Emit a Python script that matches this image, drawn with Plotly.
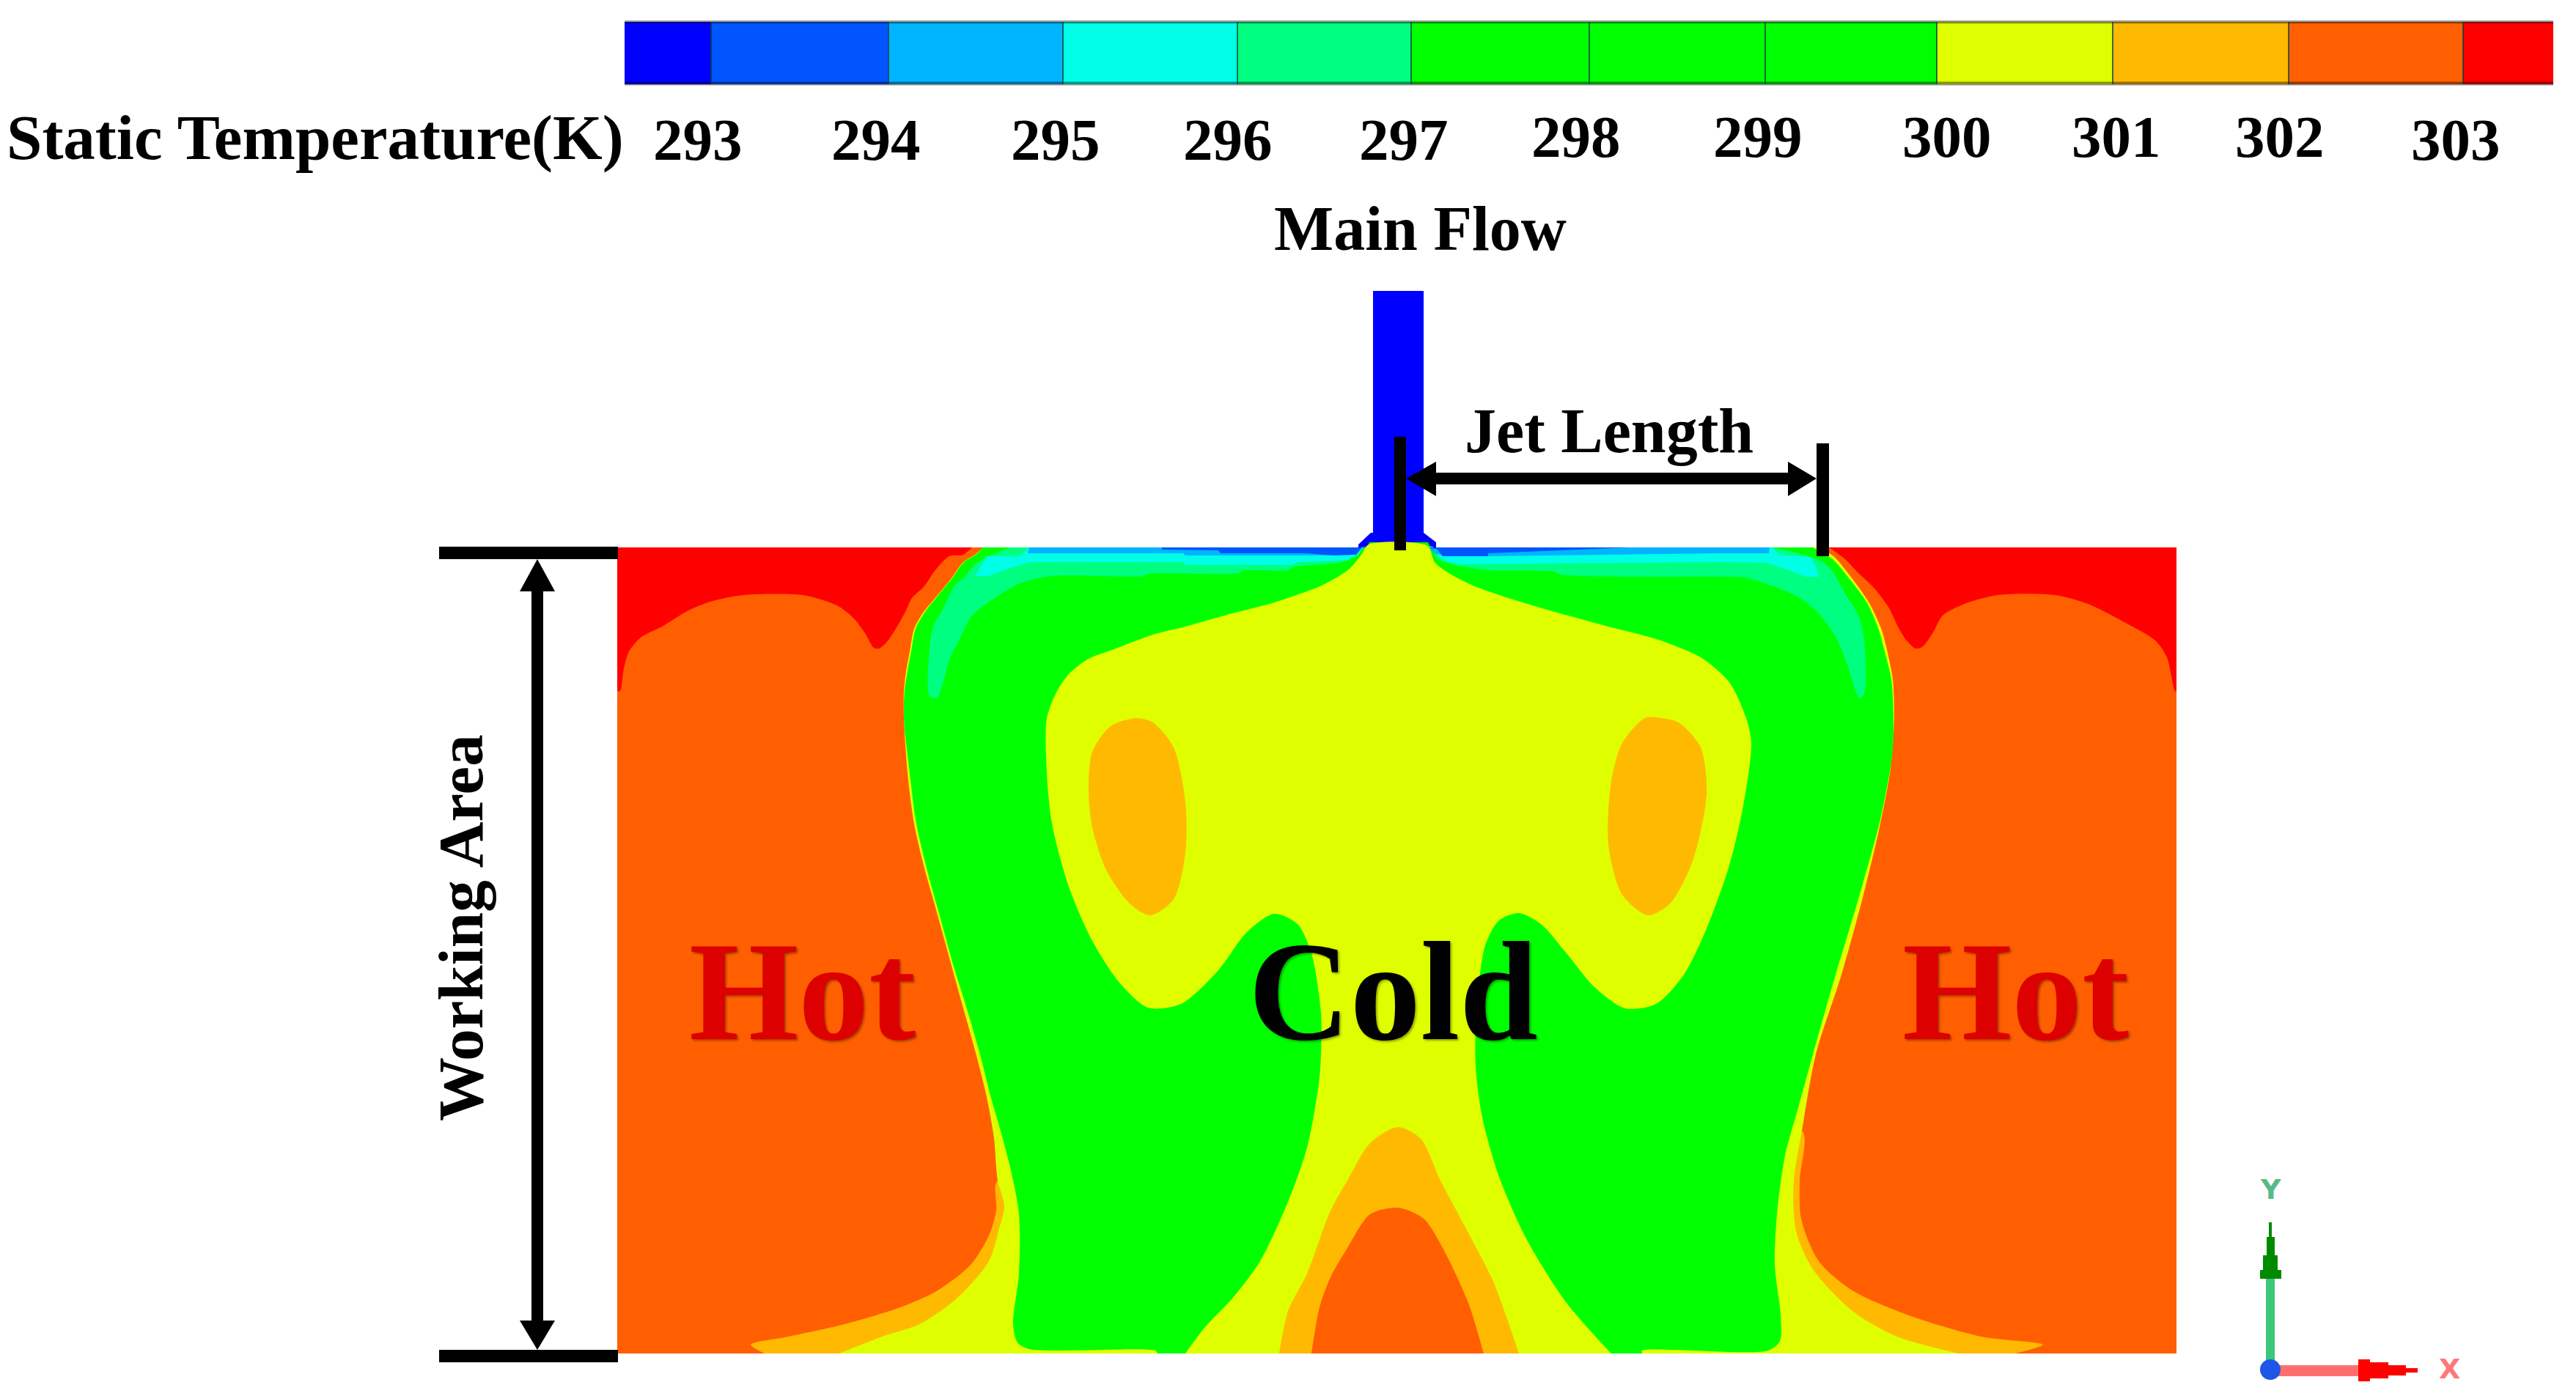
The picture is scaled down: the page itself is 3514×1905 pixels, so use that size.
import plotly.graph_objects as go

# ---- colour bar -----------------------------------------------------------
BAR_EDGES = [852, 970, 1212, 1450, 1688, 1925, 2168, 2408, 2642, 2882, 3122, 3360, 3483]
BAR_COLORS = ["#0000FF", "#0055FF", "#00B4FF", "#00FFE6", "#00FF80", "#00FF00", "#00FF00",
              "#00FF00", "#DFFF00", "#FFB900", "#FF5F00", "#FF0000"]
TICK_LABELS = ["293", "294", "295", "296", "297", "298", "299", "300", "301", "302", "303"]
TICK_X = [952, 1195, 1440, 1675, 1915, 2150, 2398, 2656, 2887, 3110, 3350]
TICK_Y = [191, 191, 191, 191, 191, 187, 187, 187, 187, 187, 191]

# ---- temperature contour bands (outlines) ---------------------------------
DOMAIN = [(842, 747), (2969, 747), (2969, 1847), (842, 1847)]
RED_L = [(842, 747), (1326, 747), (1314, 757), (1295, 759), (1276, 778), (1260, 801), (1244, 816), (1235, 835),
         (1222, 858), (1209, 877), (1199, 885), (1192, 884), (1180, 864), (1164, 843), (1145, 828), (1126, 820),
         (1094, 812), (1015, 812), (973, 820), (941, 832), (903, 855), (874, 870), (858, 889), (851, 912),
         (846, 943), (842, 943)]
RED_R = [(2495, 747), (2517, 763), (2533, 780), (2557, 803), (2577, 830), (2590, 857), (2600, 873), (2613, 885),
         (2622, 883), (2637, 863), (2650, 840), (2680, 824), (2726, 812), (2803, 812), (2848, 824), (2894, 847),
         (2940, 874), (2956, 897), (2967, 943), (2969, 943), (2969, 747)]
AMBER_L = [(1361, 1611), (1359, 1652), (1349, 1686), (1324, 1726), (1279, 1761), (1228, 1784), (1152, 1807),
           (1075, 1824), (1024, 1835), (1043, 1847), (1500, 1847), (1500, 1611)]
AMBER_R = [(2458, 1543), (2455, 1611), (2457, 1663), (2481, 1721), (2527, 1761), (2604, 1795), (2703, 1824),
           (2787, 1835), (2749, 1847), (2300, 1847), (2300, 1583)]
YELLOW_OUT = [(1341, 747), (1330, 757), (1314, 767), (1298, 789), (1279, 812), (1260, 835), (1247, 858), (1241, 889),
              (1236, 916), (1233, 943), (1233, 980), (1238, 1055), (1247, 1124), (1260, 1181), (1276, 1238),
              (1295, 1307), (1311, 1365), (1330, 1433), (1346, 1497), (1356, 1554), (1361, 1611), (1370, 1646),
              (1362, 1680), (1349, 1721), (1305, 1772), (1254, 1807), (1203, 1824), (1145, 1847), (2672, 1847),
              (2588, 1824), (2527, 1789), (2473, 1732), (2450, 1680), (2447, 1611), (2458, 1543), (2477, 1439),
              (2512, 1330), (2542, 1221), (2565, 1124), (2579, 1049), (2584, 980), (2582, 927), (2577, 900),
              (2567, 860), (2550, 823), (2527, 790), (2500, 758), (2478, 747)]
GREEN = [(1341, 747), (1331, 757), (1315, 767), (1299, 789), (1280, 812), (1262, 835), (1249, 858), (1243, 889),
         (1238, 916), (1234, 943), (1233, 980), (1241, 1055), (1250, 1124), (1266, 1192), (1282, 1250), (1301, 1319),
         (1317, 1370), (1337, 1439), (1353, 1502), (1368, 1554), (1381, 1606), (1390, 1657), (1390, 1738),
         (1382, 1807), (1388, 1832), (1404, 1841), (1576, 1843), (1579, 1847), (2240, 1847), (2240, 1843),
         (2412, 1843), (2428, 1830), (2429, 1795), (2421, 1726), (2424, 1657), (2435, 1577), (2454, 1508),
         (2473, 1439), (2504, 1330), (2535, 1227), (2565, 1118), (2581, 1032), (2583, 980), (2580, 927), (2573, 897),
         (2563, 860), (2547, 823), (2523, 790), (2500, 763), (2493, 759), (2473, 747)]
TEAL = [(1378, 747), (1349, 759), (1330, 770), (1317, 786), (1301, 801), (1286, 832), (1273, 855), (1268, 885),
        (1268, 950), (1278, 952), (1289, 923), (1295, 900), (1308, 874), (1324, 843), (1340, 828), (1368, 809),
        (1394, 795), (1435, 786), (1560, 786), (1566, 783), (1691, 782), (1694, 779), (1757, 778), (1764, 774),
        (1830, 767), (1852, 757), (1867, 740), (1950, 743), (1960, 762), (1980, 770), (2030, 778), (2121, 780),
        (2129, 784), (2350, 787), (2380, 788), (2413, 798), (2450, 813), (2477, 833), (2503, 867), (2520, 907),
        (2533, 947), (2537, 953), (2543, 947), (2543, 873), (2535, 840), (2517, 810), (2500, 780), (2487, 767),
        (2470, 760), (2433, 750), (2418, 747)]
CYAN = [(1404, 747), (1391, 759), (1346, 759), (1330, 786), (1349, 786), (1375, 776), (1407, 767), (1614, 767),
        (1617, 771), (1764, 771), (1770, 767), (1837, 765), (1853, 757), (1860, 745), (1953, 750), (1970, 765),
        (1990, 770), (2350, 767), (2410, 768), (2440, 778), (2463, 787), (2482, 787), (2477, 773), (2470, 760),
        (2427, 757), (2417, 747)]
SKY = [(1404, 747), (1402, 755), (1614, 755), (1617, 758), (1820, 758), (1850, 755), (1860, 745), (1950, 747),
       (1955, 755), (1975, 759), (2030, 759), (2350, 755), (2413, 755), (2414, 747)]
BLUE = [(1585, 747), (1585, 750), (1662, 751), (1665, 755), (1783, 755), (1820, 758), (1850, 757), (1860, 745),
        (1960, 749), (1968, 759), (2030, 759), (2030, 755), (2152, 750), (2225, 747)]
JET = [(1873, 397), (1942, 397), (1942, 727), (1959, 740), (1959, 748), (1947, 744), (1868, 744), (1853, 748),
       (1853, 743), (1870, 727), (1873, 727)]
JET_FRINGE = [(1858, 762), (1868, 740), (1948, 740), (1958, 762)]
YELLOW_IN = [(1617, 1847), (1643, 1812), (1681, 1772), (1719, 1721), (1757, 1640), (1783, 1566), (1799, 1479),
             (1802, 1439), (1802, 1382), (1789, 1301), (1770, 1261), (1738, 1247), (1700, 1273), (1662, 1324),
             (1611, 1370), (1566, 1375), (1528, 1342), (1490, 1284), (1458, 1210), (1435, 1124), (1428, 1055),
             (1428, 980), (1442, 943), (1458, 920), (1483, 900), (1522, 885), (1573, 866), (1617, 855), (1681, 837),
             (1732, 824), (1777, 809), (1805, 798), (1840, 777), (1857, 757), (1867, 743), (1947, 745), (1957, 767),
             (1973, 780), (2007, 798), (2045, 812), (2114, 833), (2198, 856), (2259, 872), (2320, 897), (2359, 931),
             (2382, 980), (2389, 1014), (2378, 1100), (2359, 1181), (2328, 1267), (2297, 1330), (2259, 1370),
             (2217, 1376), (2175, 1347), (2137, 1301), (2102, 1261), (2072, 1246), (2045, 1256), (2026, 1290),
             (2014, 1382), (2013, 1456), (2022, 1525), (2045, 1606), (2083, 1692), (2137, 1778), (2198, 1847)]
AMBER_C = [(1745, 1847), (1757, 1789), (1783, 1738), (1815, 1652), (1838, 1611), (1869, 1560), (1907, 1538),
           (1938, 1554), (1965, 1611), (1999, 1675), (2037, 1749), (2072, 1847)]
AMBER_ISLE_L = [(1550, 980), (1515, 991), (1490, 1026), (1485, 1078), (1490, 1129), (1509, 1187), (1541, 1233),
                (1569, 1249), (1601, 1227), (1617, 1164), (1617, 1095), (1601, 1020), (1573, 986)]
AMBER_ISLE_R = [(2244, 980), (2213, 1014), (2198, 1066), (2194, 1152), (2213, 1221), (2248, 1249), (2278, 1233),
                (2309, 1175), (2328, 1083), (2320, 1020), (2290, 986), (2267, 980)]
ORANGE_C = [(1789, 1847), (1800, 1784), (1815, 1743), (1838, 1703), (1869, 1657), (1907, 1648), (1942, 1663),
            (1968, 1703), (2003, 1778), (2024, 1847)]

# (outline, colour, smooth the outline?)
BANDS = [
    (DOMAIN, "#FF5F00", False), (RED_L, "#FF0000", True), (RED_R, "#FF0000", True),
    (AMBER_L, "#FFB900", True), (AMBER_R, "#FFB900", True), (YELLOW_OUT, "#DFFF00", True),
    (GREEN, "#00FF00", True), (TEAL, "#00FF80", True), (CYAN, "#00FFE6", False), (SKY, "#00B4FF", False),
    (BLUE, "#0055FF", False), (JET, "#0000FF", False), (JET_FRINGE, "#00FF00", False), (YELLOW_IN, "#DFFF00", True),
    (AMBER_C, "#FFB900", True), (AMBER_ISLE_L, "#FFB900", True), (AMBER_ISLE_R, "#FFB900", True),
    (ORANGE_C, "#FF5F00", True),
]

# ---- dimension marks ------------------------------------------------------
BLACK_POLYS = [
    [(1902, 596), (1918, 596), (1918, 751), (1902, 751)],                 # jet tick left
    [(2478, 605), (2495, 605), (2495, 759), (2478, 759)],                 # jet tick right
    [(1959, 645), (2439, 645), (2439, 661), (1959, 661)],                 # jet shaft
    [(1918, 653), (1959, 630), (1959, 677)],                              # jet head left
    [(2478, 653), (2439, 630), (2439, 677)],                              # jet head right
    [(599, 746), (843, 746), (843, 763), (599, 763)],                     # top bar
    [(599, 1842), (843, 1842), (843, 1859), (599, 1859)],                 # bottom bar
    [(725, 807), (741, 807), (741, 1802), (725, 1802)],                   # area shaft
    [(733, 763), (709, 807), (757, 807)],                                 # area head up
    [(733, 1842), (709, 1802), (757, 1802)],                              # area head down
]

# ---- axis triad -----------------------------------------------------------
TRIAD_ORIGIN = (3097, 1869)
Y_STEM = [(3091, 1869), (3103, 1869), (3103, 1745), (3091, 1745)]
Y_HEAD = [(3083, 1745), (3083, 1733), (3087, 1733), (3087, 1713), (3092, 1713), (3092, 1688), (3095, 1688),
          (3095, 1668), (3099, 1668), (3099, 1688), (3103, 1688), (3103, 1713), (3107, 1713), (3107, 1733),
          (3112, 1733), (3112, 1745)]
X_STEM = [(3097, 1863), (3217, 1863), (3217, 1878), (3097, 1878)]
X_HEAD = [(3217, 1855), (3233, 1855), (3233, 1859), (3258, 1859), (3258, 1863), (3282, 1863), (3282, 1867),
          (3298, 1867), (3298, 1873), (3282, 1873), (3282, 1877), (3258, 1877), (3258, 1881), (3233, 1881),
          (3233, 1885), (3217, 1885)]

fig = go.Figure()


def poly(points, color, smooth=False):
    pts = list(points) + [points[0]]
    line = dict(width=0, color=color, simplify=False)
    if smooth:
        # points on the domain edge stay sharp corners: repeat them for the spline
        sharp = []
        for p in pts:
            sharp.append(p)
            if p[1] in (747, 1847) or p[0] in (842, 2969):
                sharp.append(p)
        pts = sharp
        line.update(shape="spline", smoothing=0.8)
    fig.add_trace(go.Scatter(x=[p[0] for p in pts], y=[p[1] for p in pts], mode="lines", fill="toself",
                             fillcolor=color, line=line, hoverinfo="skip", showlegend=False))


def seg(x0, y0, x1, y1, color, width, opacity=1.0):
    fig.add_trace(go.Scatter(x=[x0, x1], y=[y0, y1], mode="lines", line=dict(color=color, width=width),
                             opacity=opacity, hoverinfo="skip", showlegend=False))


# colour bar
for i, c in enumerate(BAR_COLORS):
    poly([(BAR_EDGES[i], 30), (BAR_EDGES[i + 1], 30), (BAR_EDGES[i + 1], 115), (BAR_EDGES[i], 115)], c)
seg(BAR_EDGES[0], 30, BAR_EDGES[-1], 30, "#000000", 4, 0.42)
seg(BAR_EDGES[0], 114, BAR_EDGES[-1], 114, "#000000", 5, 0.4)
for e in BAR_EDGES[1:-1]:
    seg(e, 30, e, 115, "#004040", 2, 0.75)

for pts, col, smooth in BANDS:
    poly(pts, col, smooth)
for pts in BLACK_POLYS:
    poly(pts, "#000000")

poly(Y_STEM, "#3CC878")
poly(Y_HEAD, "#008A00")
poly(X_STEM, "#FF6E6E")
poly(X_HEAD, "#FF0000")
fig.add_trace(go.Scatter(x=[TRIAD_ORIGIN[0]], y=[TRIAD_ORIGIN[1]], mode="markers",
                         marker=dict(size=28, color="#1E56E8"), hoverinfo="skip", showlegend=False))

SERIF = "Liberation Serif"
SOFT = "2px 2px 3px rgba(0,0,0,0.35)"


def label(text, x, y, size, color="#000000", angle=0, family=SERIF, shadow=None):
    font = dict(family=family, size=size, color=color)
    if shadow:
        font["shadow"] = shadow
    fig.add_annotation(x=x, y=y, xref="x", yref="y", text=f"<b>{text}</b>", showarrow=False, textangle=angle,
                       xanchor="center", yanchor="middle", font=font)


label("Static Temperature(K)", 430, 187, 87)
for t, x, y in zip(TICK_LABELS, TICK_X, TICK_Y):
    label(t, x, y, 81)
label("Main Flow", 1937, 312, 86)
label("Jet Length", 2195, 588, 86)
label("Working Area", 628, 1266, 87, angle=-90)
label("Hot", 1094, 1353, 192, "#DD0000", shadow=SOFT)
label("Hot", 2749, 1353, 192, "#DD0000", shadow=SOFT)
label("Cold", 1900, 1353, 192, shadow=SOFT)
label("Y", 3097, 1623, 38, "#55BB88", family="DejaVu Sans")
label("X", 3341, 1868, 38, "#FF7777", family="DejaVu Sans")

fig.update_layout(
    width=3514, height=1905, autosize=False, margin=dict(l=0, r=0, t=0, b=0),
    paper_bgcolor="#FFFFFF", plot_bgcolor="#FFFFFF", showlegend=False,
    xaxis=dict(range=[0, 3514], visible=False, fixedrange=True),
    yaxis=dict(range=[1905, 0], visible=False, fixedrange=True),
)
fig.write_html("out.html", config=dict(displayModeBar=False),
               post_script="document.body.style.margin='0';document.documentElement.style.overflow='hidden';")
